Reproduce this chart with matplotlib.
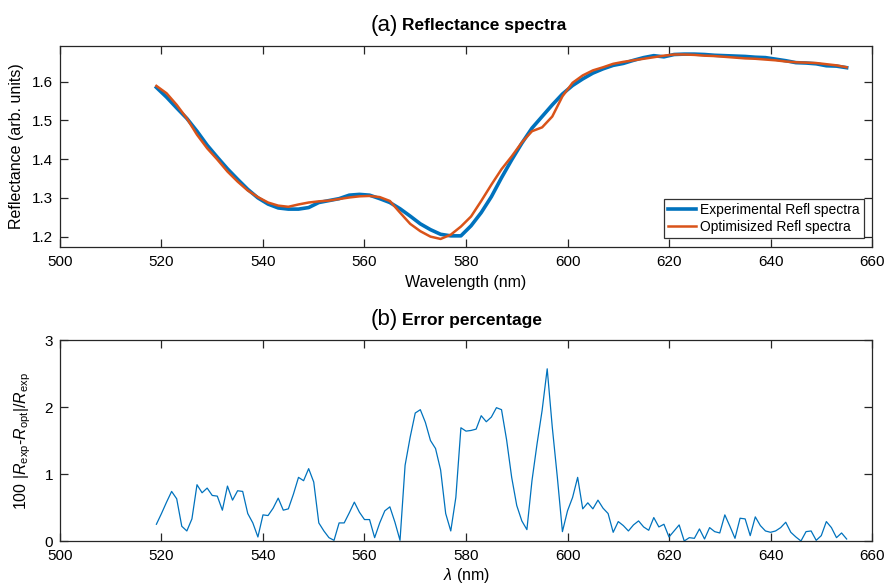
import numpy as np
import matplotlib
matplotlib.use("Agg")
import matplotlib.pyplot as plt

plt.rcParams['font.family'] = ['Liberation Sans', 'DejaVu Sans']
plt.rcParams['mathtext.fontset'] = 'custom'
plt.rcParams['mathtext.rm'] = 'Liberation Sans'
plt.rcParams['mathtext.it'] = 'Liberation Sans:italic'

# reflectance spectra, read every 2 nm
wl_refl = np.arange(519, 656, 2)
refl_exp = [1.585, 1.560, 1.532, 1.505, 1.472, 1.436, 1.405, 1.375, 1.348, 1.322,
            1.300, 1.284, 1.274, 1.271, 1.271, 1.275, 1.288, 1.293, 1.298, 1.307,
            1.309, 1.307, 1.298, 1.288, 1.272, 1.253, 1.233, 1.218, 1.206, 1.202,
            1.202, 1.228, 1.262, 1.303, 1.352, 1.398, 1.441, 1.480, 1.510, 1.540,
            1.568, 1.590, 1.607, 1.622, 1.633, 1.642, 1.647, 1.655, 1.662, 1.667,
            1.664, 1.670, 1.671, 1.671, 1.670, 1.668, 1.667, 1.666, 1.665, 1.663,
            1.662, 1.658, 1.654, 1.649, 1.648, 1.646, 1.641, 1.640, 1.636]
refl_opt = [1.589, 1.570, 1.540, 1.505, 1.463, 1.428, 1.399, 1.368, 1.342, 1.319,
            1.302, 1.288, 1.280, 1.277, 1.283, 1.288, 1.291, 1.293, 1.297, 1.301,
            1.304, 1.305, 1.302, 1.292, 1.262, 1.233, 1.214, 1.200, 1.194, 1.205,
            1.226, 1.252, 1.292, 1.334, 1.374, 1.407, 1.443, 1.472, 1.482, 1.510,
            1.562, 1.597, 1.616, 1.629, 1.637, 1.646, 1.651, 1.655, 1.659, 1.663,
            1.667, 1.670, 1.670, 1.669, 1.667, 1.666, 1.664, 1.662, 1.660, 1.659,
            1.657, 1.655, 1.652, 1.650, 1.649, 1.648, 1.645, 1.642, 1.637]

# error percentage, every 1 nm
wl_err = np.arange(519, 656)
err = [0.25, 0.41, 0.58, 0.74, 0.63, 0.22, 0.15, 0.33, 0.84, 0.72,
       0.79, 0.68, 0.67, 0.46, 0.82, 0.61, 0.75, 0.74, 0.41, 0.27,
       0.06, 0.39, 0.38, 0.49, 0.64, 0.46, 0.48, 0.70, 0.95, 0.90,
       1.08, 0.88, 0.27, 0.15, 0.05, 0.01, 0.27, 0.27, 0.42, 0.58,
       0.43, 0.32, 0.32, 0.05, 0.27, 0.45, 0.51, 0.28, 0.01, 1.13,
       1.55, 1.91, 1.96, 1.77, 1.50, 1.38, 1.06, 0.41, 0.15, 0.65,
       1.69, 1.64, 1.65, 1.67, 1.87, 1.78, 1.85, 1.99, 1.96, 1.51,
       0.95, 0.53, 0.30, 0.17, 0.90, 1.45, 1.95, 2.57, 1.70, 0.95,
       0.14, 0.45, 0.65, 0.95, 0.48, 0.57, 0.48, 0.61, 0.49, 0.41,
       0.13, 0.29, 0.23, 0.15, 0.24, 0.30, 0.21, 0.16, 0.35, 0.21,
       0.25, 0.06, 0.15, 0.24, 0.00, 0.05, 0.04, 0.18, 0.03, 0.20,
       0.14, 0.12, 0.39, 0.22, 0.04, 0.34, 0.33, 0.08, 0.36, 0.23,
       0.15, 0.13, 0.15, 0.20, 0.28, 0.13, 0.06, 0.00, 0.14, 0.15,
       0.01, 0.08, 0.29, 0.20, 0.05, 0.12, 0.03]

blue = '#0072BD'
orange = '#D95319'
axcol = '#262626'

fig = plt.figure(figsize=(8.91, 5.85), dpi=100)
ax1 = fig.add_axes([0.0673, 0.5783, 0.9114, 0.3431])
ax2 = fig.add_axes([0.0673, 0.0752, 0.9114, 0.3436])


def style(ax):
    for s in ax.spines.values():
        s.set_color(axcol)
        s.set_linewidth(0.9)
    ax.tick_params(direction='in', length=6, width=0.9, colors=axcol,
                   labelcolor='black', labelsize=11, top=True, right=True)
    ax.tick_params(axis='x', pad=6)
    ax.tick_params(axis='y', pad=5)
    ax.set_xlim(500, 660)
    ax.set_xticks(np.arange(500, 661, 20))


def title(ax, tag, text):
    ax.annotate(tag, xy=(0.4165, 1.0), xycoords='axes fraction',
                xytext=(0, 7), textcoords='offset points',
                ha='right', va='bottom', fontsize=16)
    ax.annotate(text, xy=(0.4215, 1.0), xycoords='axes fraction',
                xytext=(0, 9), textcoords='offset points',
                ha='left', va='bottom', fontsize=12.5, fontweight='bold')


# (a) reflectance
ax1.plot(wl_refl, refl_exp, color=blue, lw=2.6, label='Experimental Refl spectra')
ax1.plot(wl_refl, refl_opt, color=orange, lw=1.8, label='Optimisized Refl spectra')
style(ax1)
ax1.set_ylim(1.174, 1.692)
ax1.set_yticks([1.2, 1.3, 1.4, 1.5, 1.6])
ax1.set_xlabel('Wavelength (nm)', fontsize=11.5, labelpad=4)
ax1.set_ylabel('Reflectance (arb. units)', fontsize=11.5, labelpad=6)
leg = ax1.legend(loc='lower right', fontsize=10, frameon=True, fancybox=False,
                 edgecolor='black', borderpad=0.3, handlelength=2.0,
                 handletextpad=0.3, labelspacing=0.25, borderaxespad=0.6)
leg.get_frame().set_linewidth(0.9)
title(ax1, '(a)', 'Reflectance spectra')

# (b) error
ax2.plot(wl_err, err, color=blue, lw=0.9)
style(ax2)
ax2.set_ylim(0, 3)
ax2.set_yticks([0, 1, 2, 3])
ax2.set_xlabel(r'$\lambda$ (nm)', fontsize=11.5, labelpad=2)
ax2.set_ylabel(r'100 $|R_{\rm exp}$-$R_{\rm opt}|/R_{\rm exp}$', fontsize=11.5, labelpad=8)
title(ax2, '(b)', 'Error percentage')

fig.savefig('out.png', dpi=100)
